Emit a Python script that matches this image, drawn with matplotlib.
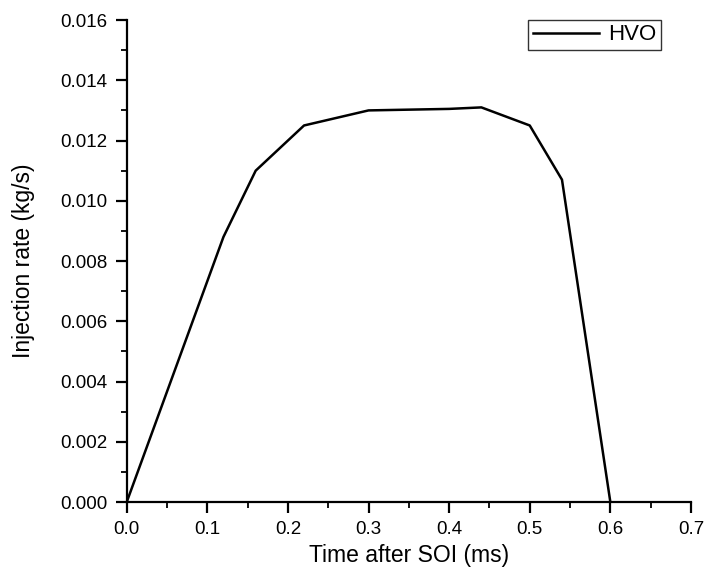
import matplotlib
matplotlib.use("Agg")
import matplotlib.pyplot as plt
from matplotlib.ticker import MultipleLocator, FormatStrFormatter

# injection rate profile
time_ms = [0.0, 0.12, 0.16, 0.22, 0.30, 0.40, 0.44, 0.50, 0.54, 0.60]
rate_kgs = [0.0, 0.0088, 0.0110, 0.0125, 0.0130, 0.01305, 0.0131, 0.0125, 0.0107, 0.0]

plt.rcParams['font.family'] = ['Liberation Sans', 'DejaVu Sans']

fig = plt.figure(figsize=(7.16, 5.74), dpi=100)
ax = fig.add_axes([0.177, 0.1254, 0.788, 0.8397])

ax.plot(time_ms, rate_kgs, color='black', linewidth=1.8, label='HVO')

ax.set_xlim(0, 0.7)
ax.set_ylim(0, 0.016)
ax.xaxis.set_major_locator(MultipleLocator(0.1))
ax.xaxis.set_minor_locator(MultipleLocator(0.05))
ax.yaxis.set_major_locator(MultipleLocator(0.002))
ax.yaxis.set_minor_locator(MultipleLocator(0.001))
ax.xaxis.set_major_formatter(FormatStrFormatter('%.1f'))
ax.yaxis.set_major_formatter(FormatStrFormatter('%.3f'))

for side in ['top', 'right']:
    ax.spines[side].set_visible(False)
for side in ['left', 'bottom']:
    ax.spines[side].set_linewidth(1.6)

ax.tick_params(which='major', direction='out', length=8, width=1.6, labelsize=13.5, pad=6)
ax.tick_params(which='minor', direction='out', length=4.5, width=1.3)

ax.set_xlabel('Time after SOI (ms)', fontsize=16.5, labelpad=4)
ax.set_ylabel('Injection rate (kg/s)', fontsize=16.5, labelpad=18)

leg = ax.legend(loc='upper right', bbox_to_anchor=(0.947, 1.0), fontsize=16,
                fancybox=False, edgecolor='black', handlelength=3.0,
                borderpad=0.2, handletextpad=0.4, borderaxespad=0)
leg.get_frame().set_linewidth(1.0)

fig.savefig('out.png', dpi=100)
